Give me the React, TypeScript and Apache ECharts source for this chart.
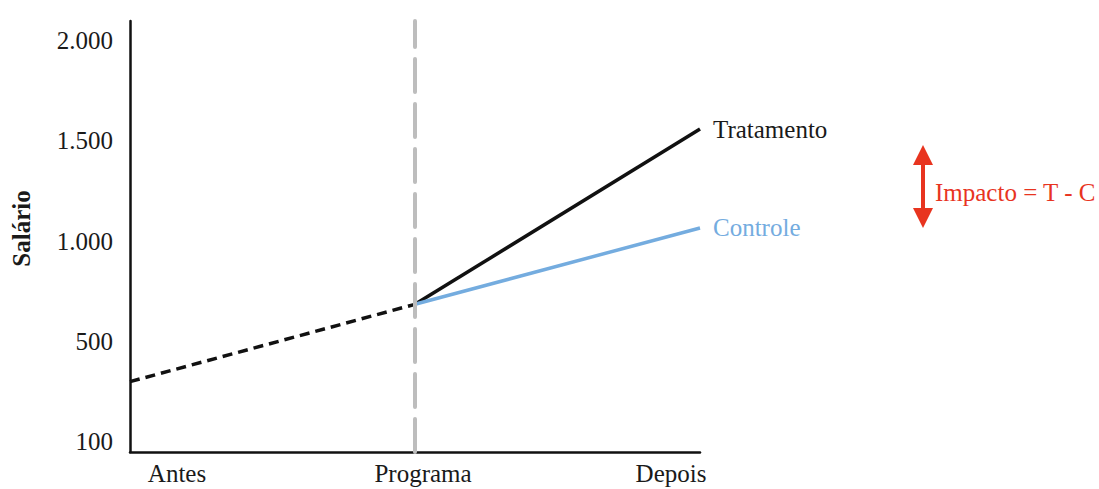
import React, { useEffect, useRef } from "react";
import * as echarts from "echarts";

const categories = ["Antes", "Programa", "Depois"];
const preValues = [300, 685];
const tratamento = [685, 1557];
const controle = [685, 1065];
const yTicks = [0, 500, 1000, 1500, 2000];
const yTickLabels = ["100", "500", "1.000", "1.500", "2.000"];
const impactoText = "Impacto = T - C";

const FONT = '"Liberation Serif", "DejaVu Serif", serif';
const FS = 25;
const BLUE = "#74acdf";
const RED = "#e8341f";
const INK = "#1a1a1a";

export default function App() {
  const ref = useRef<HTMLDivElement>(null);
  useEffect(() => {
    if (!ref.current) return;
    const chart = echarts.init(ref.current, null, { renderer: "svg" });
    const labelPad: Record<string, number[]> = {
      l0: [0, 0, 0, 94],
      l1: [0, 0, 0, 16],
      l2: [0, 58, 0, 0],
    };
    const rich: Record<string, any> = {};
    Object.keys(labelPad).forEach((k) => {
      rich[k] = { padding: labelPad[k], fontSize: FS, fontFamily: FONT, color: INK };
    });
    chart.setOption({
      animation: false,
      backgroundColor: "#ffffff",
      grid: { left: 130, right: 399, top: 21, bottom: 37, outerBoundsMode: "none" },
      xAxis: {
        type: "value",
        min: 0,
        max: 2,
        axisLine: { show: true, onZero: false, lineStyle: { color: "#111", width: 2.5 } },
        axisTick: { show: false },
        splitLine: { show: false },
        axisLabel: {
          customValues: [0, 1, 2],
          showMinLabel: true,
          showMaxLabel: true,
          hideOverlap: false,
          margin: 9,
          formatter: (v: number) => `{l${v}|${categories[v]}}`,
          rich,
          fontSize: FS,
          fontFamily: FONT,
          color: INK,
        },
      },
      yAxis: {
        type: "value",
        min: -50,
        max: 2095,
        name: "Salário",
        nameLocation: "middle",
        nameGap: 96,
        nameTextStyle: {
          fontSize: FS,
          fontWeight: "bold",
          fontFamily: FONT,
          color: INK,
          padding: [0, 0, 0, 16],
        },
        axisLine: { show: true, onZero: false, lineStyle: { color: "#111", width: 2.5 } },
        axisTick: { show: false },
        splitLine: { show: false },
        axisLabel: {
          customValues: yTicks,
          margin: 17,
          formatter: (v: number) => yTickLabels[yTicks.indexOf(v)] ?? "",
          fontSize: FS,
          fontFamily: FONT,
          color: INK,
        },
      },
      series: [
        {
          name: "pre",
          type: "line",
          symbol: "none",
          data: preValues.map((v, i) => [i, v]),
          lineStyle: { color: "#111", width: 3.5, type: [10, 6] },
          markLine: {
            silent: true,
            symbol: "none",
            label: { show: false },
            lineStyle: { color: "#bdbdbd", width: 4, type: [33, 12], cap: "round" },
            data: [{ xAxis: 1 }],
          },
          z: 1,
        },
        {
          name: "Tratamento",
          type: "line",
          symbol: "none",
          data: tratamento.map((v, i) => [i + 1, v]),
          lineStyle: { color: "#111", width: 3.5 },
          endLabel: {
            show: true,
            formatter: "{a}",
            distance: 13,
            fontSize: FS,
            fontFamily: FONT,
            color: INK,
          },
          z: 3,
        },
        {
          name: "Controle",
          type: "line",
          symbol: "none",
          data: controle.map((v, i) => [i + 1, v]),
          lineStyle: { color: BLUE, width: 3.5 },
          endLabel: {
            show: true,
            formatter: "{a}",
            distance: 13,
            fontSize: FS,
            fontFamily: FONT,
            color: BLUE,
          },
          z: 4,
        },
      ],
      graphic: [
        {
          type: "group",
          children: [
            { type: "line", shape: { x1: 923, y1: 158, x2: 923, y2: 215 }, style: { stroke: RED, lineWidth: 4 } },
            { type: "polygon", shape: { points: [[913, 165], [923, 145], [933, 165]] }, style: { fill: RED } },
            { type: "polygon", shape: { points: [[913, 208], [923, 228], [933, 208]] }, style: { fill: RED } },
            {
              type: "text",
              x: 935,
              y: 192,
              style: {
                text: impactoText,
                fill: RED,
                fontSize: FS,
                fontFamily: FONT,
                verticalAlign: "middle",
                align: "left",
              },
            },
          ],
        },
      ],
    });
    return () => chart.dispose();
  }, []);
  return (
    <div
      ref={ref}
      style={{ position: "fixed", left: 0, top: 0, width: 1099, height: 489, background: "#fff" }}
    />
  );
}
